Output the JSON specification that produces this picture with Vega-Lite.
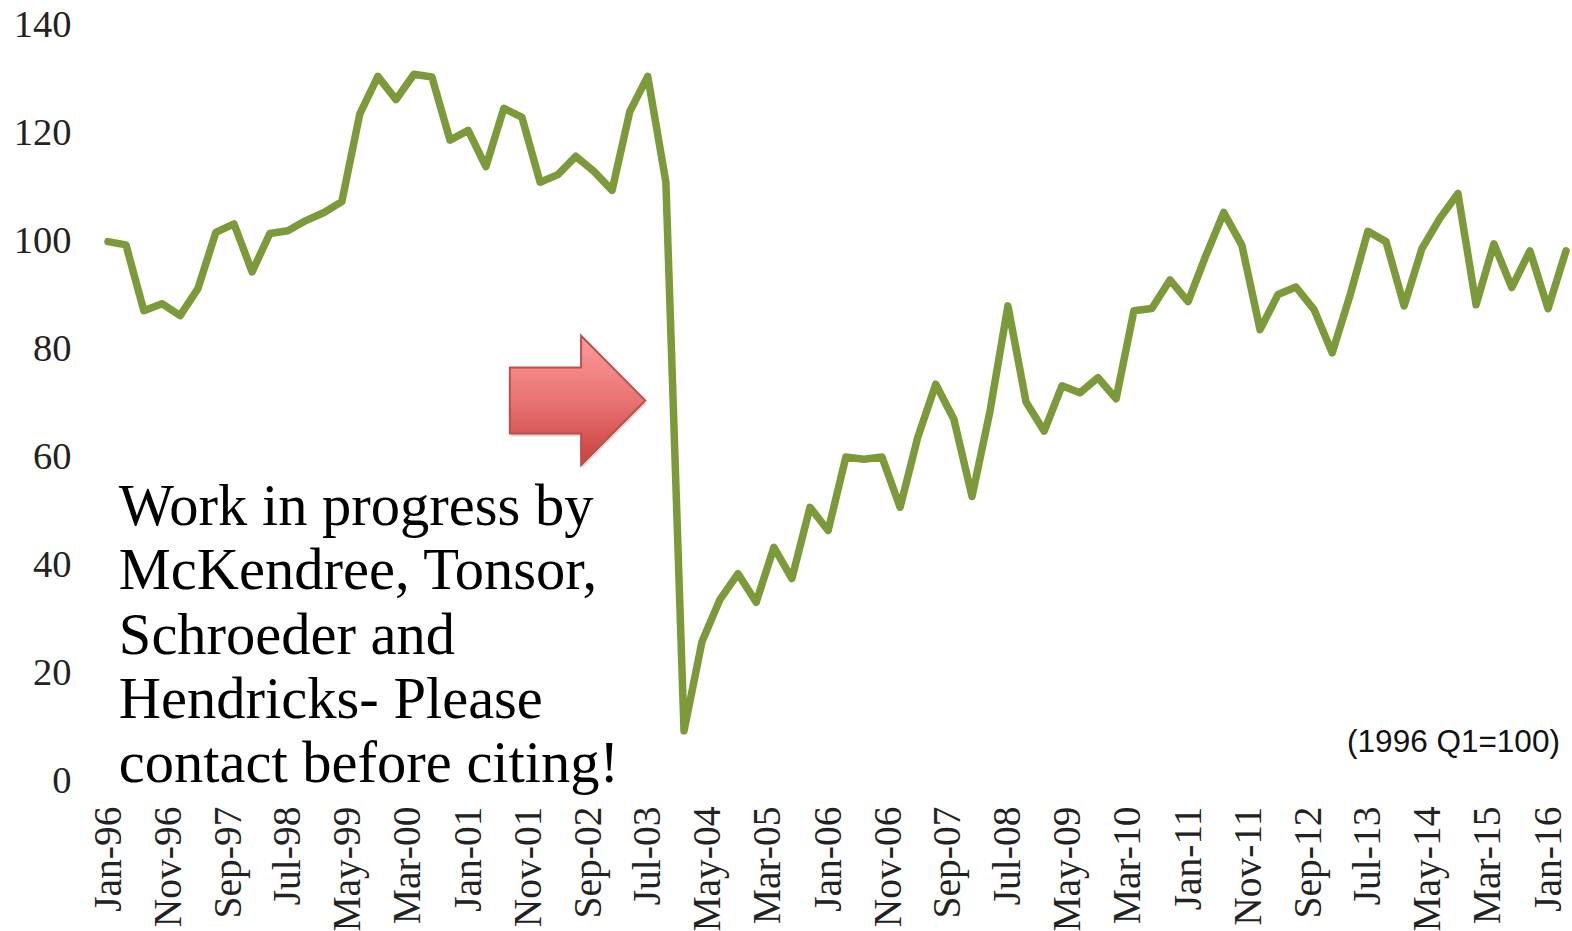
{
"$schema":"https://vega.github.io/schema/vega-lite/v6.json",
"autosize":{"type":"none"},
"padding":{"left":108,"top":24,"right":6,"bottom":151},
"width":1458,
"height":756,
"background":"white",
"config":{"view":{"stroke":null}},
"datasets":{
"series":[
{"date":"1996-01-01T00:00:00","index":99.7},{"date":"1996-04-01T00:00:00","index":99.1},{"date":"1996-07-01T00:00:00","index":86.9},{"date":"1996-10-01T00:00:00","index":88.2},
{"date":"1997-01-01T00:00:00","index":86},{"date":"1997-04-01T00:00:00","index":91},{"date":"1997-07-01T00:00:00","index":101.4},{"date":"1997-10-01T00:00:00","index":103},
{"date":"1998-01-01T00:00:00","index":94.1},{"date":"1998-04-01T00:00:00","index":101.2},{"date":"1998-07-01T00:00:00","index":101.7},{"date":"1998-10-01T00:00:00","index":103.6},
{"date":"1999-01-01T00:00:00","index":105.1},{"date":"1999-04-01T00:00:00","index":107.1},{"date":"1999-07-01T00:00:00","index":123.3},{"date":"1999-10-01T00:00:00","index":130.3},
{"date":"2000-01-01T00:00:00","index":126},{"date":"2000-04-01T00:00:00","index":130.7},{"date":"2000-07-01T00:00:00","index":130.2},{"date":"2000-10-01T00:00:00","index":118.5},
{"date":"2001-01-01T00:00:00","index":120.3},{"date":"2001-04-01T00:00:00","index":113.6},{"date":"2001-07-01T00:00:00","index":124.4},{"date":"2001-10-01T00:00:00","index":122.7},
{"date":"2002-01-01T00:00:00","index":110.7},{"date":"2002-04-01T00:00:00","index":112.1},{"date":"2002-07-01T00:00:00","index":115.5},{"date":"2002-10-01T00:00:00","index":112.7},
{"date":"2003-01-01T00:00:00","index":109.2},{"date":"2003-04-01T00:00:00","index":123.8},{"date":"2003-07-01T00:00:00","index":130.3},{"date":"2003-10-01T00:00:00","index":110.7},
{"date":"2004-01-01T00:00:00","index":9.1},{"date":"2004-04-01T00:00:00","index":25.6},{"date":"2004-07-01T00:00:00","index":33.4},{"date":"2004-10-01T00:00:00","index":38.2},
{"date":"2005-01-01T00:00:00","index":32.9},{"date":"2005-04-01T00:00:00","index":43.1},{"date":"2005-07-01T00:00:00","index":37.3},{"date":"2005-10-01T00:00:00","index":50.5},
{"date":"2006-01-01T00:00:00","index":46.2},{"date":"2006-04-01T00:00:00","index":59.8},{"date":"2006-07-01T00:00:00","index":59.4},{"date":"2006-10-01T00:00:00","index":59.8},
{"date":"2007-01-01T00:00:00","index":50.5},{"date":"2007-04-01T00:00:00","index":63.5},{"date":"2007-07-01T00:00:00","index":73.3},{"date":"2007-10-01T00:00:00","index":66.8},
{"date":"2008-01-01T00:00:00","index":52.5},{"date":"2008-04-01T00:00:00","index":68.3},{"date":"2008-07-01T00:00:00","index":87.8},{"date":"2008-10-01T00:00:00","index":70},
{"date":"2009-01-01T00:00:00","index":64.6},{"date":"2009-04-01T00:00:00","index":73},{"date":"2009-07-01T00:00:00","index":71.7},{"date":"2009-10-01T00:00:00","index":74.5},
{"date":"2010-01-01T00:00:00","index":70.6},{"date":"2010-04-01T00:00:00","index":86.9},{"date":"2010-07-01T00:00:00","index":87.3},{"date":"2010-10-01T00:00:00","index":92.6},
{"date":"2011-01-01T00:00:00","index":88.6},{"date":"2011-04-01T00:00:00","index":97.1},{"date":"2011-07-01T00:00:00","index":105.1},{"date":"2011-10-01T00:00:00","index":99},
{"date":"2012-01-01T00:00:00","index":83.4},{"date":"2012-04-01T00:00:00","index":89.9},{"date":"2012-07-01T00:00:00","index":91.3},{"date":"2012-10-01T00:00:00","index":87.1},
{"date":"2013-01-01T00:00:00","index":79.1},{"date":"2013-04-01T00:00:00","index":89.7},{"date":"2013-07-01T00:00:00","index":101.6},{"date":"2013-10-01T00:00:00","index":99.7},
{"date":"2014-01-01T00:00:00","index":87.8},{"date":"2014-04-01T00:00:00","index":98.4},{"date":"2014-07-01T00:00:00","index":104},{"date":"2014-10-01T00:00:00","index":108.6},
{"date":"2015-01-01T00:00:00","index":88},{"date":"2015-04-01T00:00:00","index":99.3},{"date":"2015-07-01T00:00:00","index":91.2},{"date":"2015-10-01T00:00:00","index":98},
{"date":"2016-01-01T00:00:00","index":87.3},{"date":"2016-04-01T00:00:00","index":98}
],
"note":[
{"date":"1996-02-25T00:00:00","index":47.2,"label":"Work in progress by"},
{"date":"1996-02-25T00:00:00","index":35.3,"label":"McKendree, Tonsor,"},
{"date":"1996-02-25T00:00:00","index":23.4,"label":"Schroeder and"},
{"date":"1996-02-25T00:00:00","index":11.5,"label":"Hendricks- Please"},
{"date":"1996-02-25T00:00:00","index":-0.4,"label":"contact before citing!"}
],
"base":[{"date":"2016-03-01T00:00:00","index":5.2,"label":"(1996 Q1=100)"}],
"arrow":[{"date":"2002-07-10T00:00:00","index":70.3}]
},
"encoding":{
"x":{"field":"date","type":"temporal","title":null,
"scale":{"domain":["1996-01-01T00:00:00","2016-04-01T00:00:00"],"nice":false},
"axis":{"domain":false,"ticks":false,"grid":false,"labelAngle":-90,"labelAlign":"right","labelBaseline":"middle","labelFont":"Liberation Serif","labelFontSize":39.5,"labelColor":"#222222","labelPadding":26,"labelOverlap":false,"labelBound":false,"labelFlush":false,"format":"%b-%y",
"values":["1996-01-01T00:00:00","1996-11-01T00:00:00","1997-09-01T00:00:00","1998-07-01T00:00:00","1999-05-01T00:00:00","2000-03-01T00:00:00","2001-01-01T00:00:00","2001-11-01T00:00:00","2002-09-01T00:00:00","2003-07-01T00:00:00","2004-05-01T00:00:00","2005-03-01T00:00:00","2006-01-01T00:00:00","2006-11-01T00:00:00","2007-09-01T00:00:00","2008-07-01T00:00:00","2009-05-01T00:00:00","2010-03-01T00:00:00","2011-01-01T00:00:00","2011-11-01T00:00:00","2012-09-01T00:00:00","2013-07-01T00:00:00","2014-05-01T00:00:00","2015-03-01T00:00:00","2016-01-01T00:00:00"]}},
"y":{"field":"index","type":"quantitative","title":null,
"scale":{"domain":[0,140],"nice":false,"zero":false},
"axis":{"domain":false,"ticks":false,"grid":false,"values":[0,20,40,60,80,100,120,140],"labelFont":"Liberation Serif","labelFontSize":38.5,"labelColor":"#222222","labelPadding":37,"labelBaseline":"middle"}}
},
"layer":[
{"data":{"name":"arrow"},"mark":{"type":"point","filled":true,"clip":false,"size":18333,"shape":"M-1,-0.4875 L0.052,-0.4875 L0.052,-0.955 L1,0 L0.052,0.955 L0.052,0.4875 L-1,0.4875 Z","fill":"#777777","opacity":0.28,"xOffset":1,"yOffset":3}},
{"data":{"name":"arrow"},"mark":{"type":"point","filled":true,"clip":false,"size":18333,"shape":"M-1,-0.4875 L0.052,-0.4875 L0.052,-0.955 L1,0 L0.052,0.955 L0.052,0.4875 L-1,0.4875 Z","opacity":1,"fill":{"gradient":"linear","x1":0,"y1":0,"x2":0,"y2":1,"stops":[{"offset":0,"color":"#fe9c9c"},{"offset":0.5,"color":"#e87373"},{"offset":1,"color":"#c8403d"}]},"stroke":"#bd4f4c","strokeWidth":2}},
{"data":{"name":"series"},"mark":{"type":"line","color":"#7d9a3b","strokeWidth":7.5,"strokeCap":"round","strokeJoin":"round","clip":false}},
{"data":{"name":"note"},"mark":{"type":"text","align":"left","baseline":"alphabetic","font":"Liberation Serif","fontSize":58.5,"color":"#000000"},"encoding":{"text":{"field":"label"}}},
{"data":{"name":"base"},"mark":{"type":"text","align":"right","baseline":"alphabetic","font":"Liberation Sans","fontSize":31.5,"color":"#111111"},"encoding":{"text":{"field":"label"}}}
]
}
